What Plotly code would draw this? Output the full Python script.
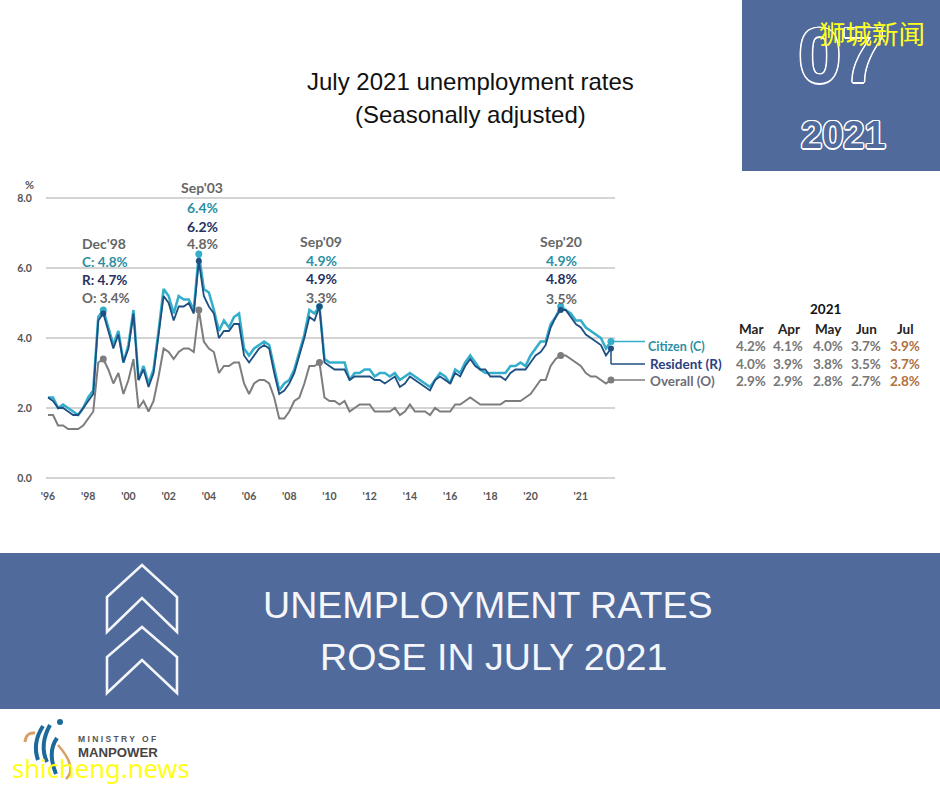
import plotly.graph_objects as go

# ---------- data ----------
years = list(range(1996, 2020))
quarters = [f"{y}Q{q}" for y in years for q in (1, 2, 3, 4)]
months_2020_21 = ["Mar20","Apr20","May20","Jun20","Jul20","Aug20","Sep20","Oct20","Nov20","Dec20",
                  "Jan21","Feb21","Mar21","Apr21","May21","Jun21","Jul21"]
periods = quarters + months_2020_21
positions = list(range(len(periods)))

citizen = [2.3,2.3,2.0,2.1, 2.0,1.9,1.8,2.0, 2.3,2.5,4.6,4.8, 4.3,3.8,4.2,3.3, 3.8,4.8,2.8,3.2,
           2.7,3.1,4.2,5.4, 5.2,4.7,5.2,5.1, 5.1,4.8,6.4,5.4, 5.3,4.8,4.2,4.5, 4.3,4.6,4.7,3.7,
           3.5,3.7,3.8,3.9, 3.8,3.1,2.5,2.7, 2.8,3.1,3.6,4.1, 4.8,4.7,4.9,3.4, 3.3,3.3,3.3,3.3,
           2.8,3.0,3.0,3.1, 3.1,2.9,3.0,3.0, 2.9,3.0,2.8,2.9, 3.0,2.9,2.8,2.7, 2.6,2.8,3.0,2.9,
           2.7,3.1,3.0,3.3, 3.5,3.3,3.1,3.0, 3.0,3.0,3.0,3.0, 3.2,3.2,3.3,3.2,
           3.5,3.7,3.9,3.9,4.4,4.6,4.9,4.8,4.7,4.5,4.5,4.3,4.2,4.1,4.0,3.7,3.9]
resident = [2.3,2.2,2.0,2.0, 1.9,1.8,1.8,2.0, 2.2,2.4,4.5,4.7, 4.2,3.7,4.1,3.3, 3.7,4.7,2.8,3.1,
            2.6,3.0,4.1,5.2, 5.0,4.5,4.9,4.9, 5.0,4.7,6.2,5.2, 4.9,4.7,4.0,4.2, 4.2,4.4,4.4,3.5,
            3.3,3.5,3.7,3.8, 3.7,3.0,2.4,2.5, 2.7,3.0,3.5,4.0, 4.6,4.5,4.9,3.3, 3.2,3.1,3.1,3.1,
            2.8,2.9,2.9,2.9, 2.9,2.8,2.8,2.7, 2.8,2.9,2.6,2.7, 2.9,2.8,2.7,2.6, 2.5,2.8,2.9,2.8,
            2.7,3.0,2.9,3.2, 3.4,3.2,3.1,3.1, 2.9,2.9,2.9,2.8, 3.0,3.1,3.1,3.1,
            3.3,3.5,3.6,3.8,4.3,4.6,4.8,4.8,4.6,4.4,4.3,4.1,4.0,3.9,3.8,3.5,3.7]
overall = [1.8,1.8,1.5,1.5, 1.4,1.4,1.4,1.5, 1.7,1.9,3.3,3.4, 3.1,2.7,3.0,2.4, 2.8,3.4,2.0,2.2,
           1.9,2.2,2.9,3.7, 3.6,3.4,3.6,3.7, 3.7,3.6,4.8,3.9, 3.7,3.6,3.0,3.2, 3.2,3.3,3.3,2.7,
           2.4,2.7,2.8,2.8, 2.7,2.3,1.7,1.7, 1.9,2.2,2.3,2.7, 3.2,3.2,3.3,2.3, 2.2,2.2,2.1,2.2,
           1.9,2.0,2.1,2.1, 2.1,1.9,1.9,1.9, 1.9,2.0,1.8,1.9, 2.1,1.9,1.9,1.9, 1.8,2.0,1.9,1.9,
           1.9,2.1,2.1,2.2, 2.3,2.2,2.1,2.1, 2.1,2.1,2.1,2.2, 2.2,2.2,2.2,2.3,
           2.4,2.6,2.8,2.8,3.2,3.4,3.5,3.5,3.4,3.3,3.2,3.0,2.9,2.9,2.8,2.7,2.8]

highlight_periods = ["1998Q4", "2003Q3", "2009Q3", "Sep20", "Jul21"]
x_tick_periods = ["1996Q1","1998Q1","2000Q1","2002Q1","2004Q1","2006Q1","2008Q1","2010Q1",
                  "2012Q1","2014Q1","2016Q1","2018Q1","Mar20","Jan21"]
x_tick_labels = ["'96","'98","'00","'02","'04","'06","'08","'10","'12","'14","'16","'18","'20","'21"]
y_ticks = [0, 2, 4, 6, 8]

table_months = ["Mar", "Apr", "May", "Jun", "Jul"]
table_rows = {"Citizen (C)": ["4.2%","4.1%","4.0%","3.7%","3.9%"],
              "Resident (R)": ["4.0%","3.9%","3.8%","3.5%","3.7%"],
              "Overall (O)": ["2.9%","2.9%","2.8%","2.7%","2.8%"]}

# ---------- styles ----------
W, H = 940, 788
BLUE = "#4f6a9b"
C_CIT, C_RES, C_OVR = "#35aecb", "#1f4f80", "#7d7d7d"
T_CIT, T_RES, T_GREY = "#2b8ea3", "#26315f", "#666666"
CHART_FONT = "Lato"

def px(x): return x / W
def py(y): return 1 - y / H

fig = go.Figure()
hl = [periods.index(p) for p in highlight_periods]
for name, vals, col, width, msize in [("Overall (O)", overall, C_OVR, 2, 7),
                                      ("Citizen (C)", citizen, C_CIT, 2.6, 7),
                                      ("Resident (R)", resident, C_RES, 1.8, 6)]:
    fig.add_trace(go.Scatter(x=positions, y=vals, name=name, mode="lines",
                             line=dict(color=col, width=width), showlegend=False, cliponaxis=False))
    fig.add_trace(go.Scatter(x=[positions[i] for i in hl], y=[vals[i] for i in hl], mode="markers",
                             marker=dict(color=col, size=msize), showlegend=False, cliponaxis=False))

shapes, annos = [], []

def rect(x0, y0, x1, y1, color):
    shapes.append(dict(type="rect", xref="paper", yref="paper", x0=px(x0), x1=px(x1),
                       y0=py(y1), y1=py(y0), fillcolor=color, line_width=0, layer="below"))

def text(x, y, s, size, color, font="Liberation Sans", bold=False, anchor="center", shadow=None):
    f = dict(size=size, color=color, family=font, weight="bold" if bold else "normal")
    if shadow:
        f["shadow"] = shadow
    annos.append(dict(x=px(x), y=py(y), xref="paper", yref="paper", text=s, showarrow=False,
                      xanchor=anchor, yanchor="middle", font=f, borderpad=0))

def path(points, color, width, closed=False, smooth=False):
    if smooth:
        a, b, c = points
        d = f"M{px(a[0])},{py(a[1])} Q{px(b[0])},{py(b[1])} {px(c[0])},{py(c[1])}"
    else:
        d = "M" + " L".join(f"{px(x)},{py(y)}" for x, y in points) + (" Z" if closed else "")
    shapes.append(dict(type="path", xref="paper", yref="paper", path=d,
                       line=dict(color=color, width=width), layer="above"))

# page blocks
rect(742, 0, 940, 171, BLUE)
rect(0, 553, 940, 709, BLUE)

# title and banners
text(470, 81, "July 2021 unemployment rates", 24, "#111111")
text(470, 114, "(Seasonally adjusted)", 24, "#111111")
text(488, 605, "UNEMPLOYMENT RATES", 37.6, "#f4f6fa")
text(493, 657, "ROSE IN JULY 2021", 37.6, "#f4f6fa")

outline = "1.5px 0 0 #fff, -1.5px 0 0 #fff, 0 1.5px 0 #fff, 0 -1.5px 0 #fff, 1px 1px 0 #fff, -1px -1px 0 #fff, 1px -1px 0 #fff, -1px 1px 0 #fff"
text(841, 55, "07", 78, BLUE, font="Liberation Sans", bold=True, shadow=outline)
text(843, 135, "2021", 38, BLUE, font="Liberation Sans", bold=True, shadow=outline)
text(872, 32, "狮城新闻", 26.5, "#ffff1a", font="Noto Sans CJK SC")

# chevrons
path([(107,632),(107,597),(142,565),(177,597),(177,632),(142,598)], "#f4f6fa", 2.6, closed=True)
path([(107,693),(107,657),(142,627),(177,657),(177,693),(142,660)], "#f4f6fa", 2.6, closed=True)

# logo
path([(43,726),(32,743),(38,760)], "#1c6a9a", 4, smooth=True)
path([(50,725),(39,745),(47,762)], "#1c6a9a", 4, smooth=True)
path([(57,738),(47,752),(56,774)], "#1c6a9a", 4, smooth=True)
path([(25,742),(26,732),(35,733)], "#d9a066", 3, smooth=True)
path([(58,745),(78,768),(66,779)], "#d9a066", 2.5, smooth=True)
shapes.append(dict(type="circle", xref="paper", yref="paper", x0=px(57), x1=px(63), y0=py(725), y1=py(719),
                   fillcolor="#1c6a9a", line_width=0))
text(77, 739, "M I N I S T R Y   O F", 8.5, "#555555", bold=True, anchor="left")
text(77, 752, "MANPOWER", 13.2, "#444444", bold=True, anchor="left")
text(101, 768, "shicheng.news", 25.6, "#ffff1a", font="Noto Sans")

# peak callouts
text(81, 244, "Dec'98", 14, T_GREY, font=CHART_FONT, bold=True, anchor="left")
text(81, 262, "C: 4.8%", 13.5, T_CIT, font=CHART_FONT, bold=True, anchor="left")
text(81, 280, "R: 4.7%", 13.5, T_RES, font=CHART_FONT, bold=True, anchor="left")
text(81, 298, "O: 3.4%", 13.5, T_GREY, font=CHART_FONT, bold=True, anchor="left")
for cx, ys, lines in [(202, (188, 207, 226, 244), ("Sep'03", "6.4%", "6.2%", "4.8%")),
                      (321, (242, 260, 279, 297), ("Sep'09", "4.9%", "4.9%", "3.3%")),
                      (561, (242, 260, 279, 298), ("Sep'20", "4.9%", "4.8%", "3.5%"))]:
    for y, s, c in zip(ys, lines, (T_GREY, T_CIT, T_RES, T_GREY)):
        text(cx, y, s, 14, c, font=CHART_FONT, bold=True)
text(29, 184, "%", 11, "#555555", font=CHART_FONT, bold=True)

# leader lines to the row labels
x_end, x_label = px(611), px(645)
def leader(x0, y0, x1, y1, color):
    shapes.append(dict(type="line", xref="paper", yref="y", x0=x0, x1=x1, y0=y0, y1=y1,
                       line=dict(color=color, width=1.5)))
leader(x_end, citizen[-1], x_label, citizen[-1], C_CIT)
leader(x_end, resident[-1], x_end, 3.26, C_RES)
leader(x_end, 3.26, x_label, 3.26, C_RES)
leader(x_end, overall[-1], x_label, overall[-1], C_OVR)

# table
text(825, 309, "2021", 13.5, "#111111", font=CHART_FONT, bold=True)
col_x = [751, 788, 828, 866, 905]
for x, m in zip(col_x, table_months):
    text(x, 329, m, 13.5, "#222222", font=CHART_FONT, bold=True)
for (label, vals), y, c, lx, ls in zip(table_rows.items(), (346, 364, 381), (T_CIT, "#2e3f7f", "#6d6d78"),
                                       (647, 649, 649), (12.5, 13.5, 13.5)):
    text(lx, y, label, ls, c, font=CHART_FONT, bold=True, anchor="left")
    for i, (x, v) in enumerate(zip(col_x, vals)):
        text(x, y, v, 13.5, "#b0713f" if i == 4 else "#777777", font=CHART_FONT, bold=True)

fig.update_layout(
    width=W, height=H, margin=dict(l=0, r=0, t=0, b=0, pad=0, autoexpand=False),
    paper_bgcolor="white", plot_bgcolor="white",
    shapes=shapes, annotations=annos, showlegend=False,
    xaxis=dict(domain=[px(46), px(615)], range=[-0.4, 112.8], showgrid=False, zeroline=False, showline=False,
               tickmode="array", tickvals=[periods.index(p) for p in x_tick_periods], ticktext=x_tick_labels,
               ticks="outside", ticklen=6, tickcolor="rgba(0,0,0,0)",
               tickfont=dict(family=CHART_FONT, size=10.5, color="#555555", weight="bold")),
    yaxis=dict(domain=[py(480.1), py(195.9)], range=[-0.06, 8.06], tickvals=y_ticks, tickformat=".1f",
               showgrid=True, gridcolor="#d4d4d4", gridwidth=1.5, zeroline=False, showline=False,
               ticks="outside", ticklen=11, tickcolor="rgba(0,0,0,0)",
               tickfont=dict(family=CHART_FONT, size=10.5, color="#555555", weight="bold")),
)

fig.write_html("out.html", config={"displayModeBar": False},
               post_script="document.body.style.margin='0';document.documentElement.style.overflow='hidden';")
